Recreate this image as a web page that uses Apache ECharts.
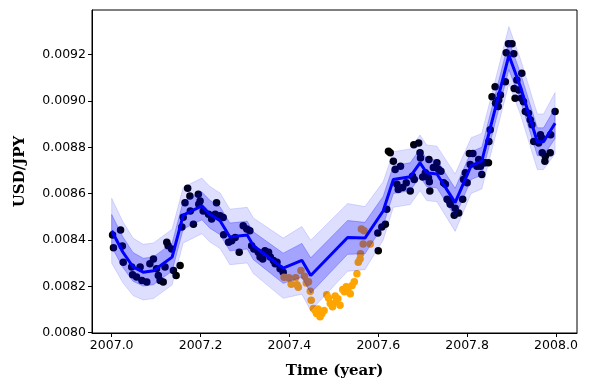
<!DOCTYPE html>
<html>
<head>
<meta charset="utf-8">
<script src="https://cdn.jsdelivr.net/npm/echarts@6/dist/echarts.min.js"></script>
<style>
  html, body { margin: 0; padding: 0; background: #fff; }
  #chart { width: 589px; height: 390px; }
</style>
</head>
<body>
<div id="chart"></div>
<script>
// GP posterior mean and std
const meanX = [2007.000, 2007.025, 2007.048, 2007.071, 2007.094, 2007.136, 2007.161, 2007.203, 2007.221, 2007.244,
    2007.266, 2007.305, 2007.319, 2007.386, 2007.428, 2007.448, 2007.531, 2007.570, 2007.611, 2007.634,
    2007.672, 2007.694, 2007.709, 2007.732, 2007.773, 2007.809, 2007.833, 2007.894, 2007.920, 2007.958,
    2007.972, 2007.998]
const meanY = [0.008440, 0.008348, 0.008284, 0.008261, 0.008267, 0.008326, 0.008507, 0.008547, 0.008511, 0.008483,
    0.008413, 0.008421, 0.008375, 0.008278, 0.008312, 0.008247, 0.008411, 0.008408, 0.008525, 0.008661,
    0.008673, 0.008733, 0.008690, 0.008685, 0.008561, 0.008721, 0.008740, 0.009197, 0.009061, 0.008824,
    0.008824, 0.008904]
const meanStd = [0.0000700, 0.0000660, 0.0000620, 0.0000600, 0.0000600, 0.0000600, 0.0000600, 0.0000600, 0.0000600, 0.0000600,
    0.0000600, 0.0000600, 0.0000600, 0.0000650, 0.0000730, 0.0000760, 0.0000730, 0.0000680, 0.0000630, 0.0000600,
    0.0000600, 0.0000600, 0.0000600, 0.0000600, 0.0000620, 0.0000600, 0.0000600, 0.0000620, 0.0000600, 0.0000600,
    0.0000600, 0.0000660]

// training observations
const trainX = [2007.002, 2007.004, 2007.020, 2007.024, 2007.026, 2007.045, 2007.047, 2007.056, 2007.064, 2007.068,
    2007.079, 2007.086, 2007.094, 2007.101, 2007.105, 2007.109, 2007.116, 2007.120, 2007.124, 2007.127,
    2007.135, 2007.139, 2007.145, 2007.154, 2007.158, 2007.161, 2007.165, 2007.171, 2007.176, 2007.177,
    2007.184, 2007.195, 2007.196, 2007.199, 2007.206, 2007.218, 2007.225, 2007.236, 2007.233, 2007.244,
    2007.251, 2007.252, 2007.263, 2007.270, 2007.278, 2007.287, 2007.296, 2007.304, 2007.311, 2007.315,
    2007.320, 2007.330, 2007.334, 2007.340, 2007.345, 2007.353, 2007.357, 2007.364, 2007.368, 2007.372,
    2007.379, 2007.386,
    2007.599, 2007.600, 2007.608, 2007.616, 2007.619, 2007.623, 2007.627, 2007.634, 2007.638, 2007.650,
    2007.642, 2007.645, 2007.655, 2007.663, 2007.672, 2007.677, 2007.681, 2007.680, 2007.691, 2007.694,
    2007.695, 2007.700, 2007.706, 2007.713, 2007.715, 2007.716, 2007.714, 2007.724, 2007.732, 2007.736,
    2007.741, 2007.747, 2007.751, 2007.755, 2007.760, 2007.762, 2007.773, 2007.771, 2007.781, 2007.790,
    2007.796, 2007.792, 2007.800, 2007.805, 2007.813, 2007.807, 2007.822, 2007.826, 2007.830, 2007.833,
    2007.837, 2007.841, 2007.848, 2007.849, 2007.852, 2007.856, 2007.863, 2007.864, 2007.871, 2007.875,
    2007.870, 2007.886, 2007.888, 2007.893, 2007.901, 2007.905, 2007.912, 2007.923, 2007.906, 2007.916,
    2007.908, 2007.922, 2007.927, 2007.931, 2007.938, 2007.942, 2007.946, 2007.950, 2007.961, 2007.965,
    2007.968, 2007.969, 2007.976, 2007.987, 2007.975, 2007.988, 2007.998]
const trainY = [0.008421, 0.008366, 0.008443, 0.008374, 0.008304, 0.008283, 0.008250, 0.008240, 0.008283, 0.008225,
    0.008219, 0.008297, 0.008318, 0.008276, 0.008247, 0.008225, 0.008219, 0.008283, 0.008390, 0.008375,
    0.008361, 0.008268, 0.008247, 0.008290, 0.008456, 0.008498, 0.008561, 0.008623, 0.008590, 0.008525,
    0.008468, 0.008597, 0.008554, 0.008568, 0.008525, 0.008511, 0.008490, 0.008561, 0.008511, 0.008504,
    0.008497, 0.008423, 0.008390, 0.008397, 0.008411, 0.008347, 0.008461, 0.008447, 0.008440, 0.008375,
    0.008361, 0.008347, 0.008326, 0.008318, 0.008354, 0.008347, 0.008326, 0.008311, 0.008297, 0.008304,
    0.008276, 0.008261,
    0.008430, 0.008354, 0.008456, 0.008468, 0.008533, 0.008783, 0.008776, 0.008740, 0.008704, 0.008718,
    0.008640, 0.008618, 0.008626, 0.008647, 0.008611, 0.008675, 0.008661, 0.008811, 0.008819, 0.008776,
    0.008754, 0.008672, 0.008690, 0.008669, 0.008651, 0.008611, 0.008747, 0.008713, 0.008733, 0.008704,
    0.008697, 0.008647, 0.008640, 0.008576, 0.008568, 0.008554, 0.008537, 0.008507, 0.008516, 0.008576,
    0.008690, 0.008661, 0.008647, 0.008773, 0.008773, 0.008726, 0.008718, 0.008747, 0.008718, 0.008683,
    0.008733, 0.008733, 0.008733, 0.008825, 0.008876, 0.009018, 0.009061, 0.008990, 0.009004, 0.009026,
    0.008976, 0.009083, 0.009208, 0.009247, 0.009247, 0.009204, 0.009090, 0.009119, 0.009054, 0.009047,
    0.009012, 0.009012, 0.008997, 0.008954, 0.008947, 0.008919, 0.008897, 0.008825, 0.008819, 0.008854,
    0.008840, 0.008776, 0.008761, 0.008776, 0.008740, 0.008854, 0.008954]

// held-out observations
const testX = [2007.388, 2007.399, 2007.414, 2007.426, 2007.434, 2007.443, 2007.404, 2007.417, 2007.447, 2007.449,
    2007.454, 2007.464, 2007.469, 2007.478, 2007.484, 2007.492, 2007.503, 2007.505, 2007.514, 2007.520,
    2007.528, 2007.537, 2007.541, 2007.552, 2007.555, 2007.559, 2007.562, 2007.566, 2007.582, 2007.560,
    2007.458, 2007.461, 2007.473, 2007.488, 2007.497, 2007.509, 2007.524, 2007.532, 2007.546, 2007.420,
    2007.438, 2007.568]
const testY = [0.008239, 0.008237, 0.008237, 0.008268, 0.008243, 0.008220, 0.008209, 0.008207, 0.008179, 0.008140,
    0.008104, 0.008102, 0.008069, 0.008096, 0.008164, 0.008126, 0.008158, 0.008133, 0.008118, 0.008186,
    0.008198, 0.008168, 0.008204, 0.008254, 0.008304, 0.008318, 0.008447, 0.008383, 0.008383, 0.008340,
    0.008096, 0.008083, 0.008082, 0.008150, 0.008112, 0.008146, 0.008176, 0.008190, 0.008220, 0.008196,
    0.008214, 0.008440]

const xTicks = [2007.0, 2007.2, 2007.4, 2007.6, 2007.8, 2008.0]
const yTicks = [0.0080, 0.0082, 0.0084, 0.0086, 0.0088, 0.0090, 0.0092]

function zip(xs, ys) {
    let out = []
    for (let i = 0; i < xs.length; i++) {
        out.push([xs[i], ys[i]])
    }
    return out
}

function bandSeries(k, color, z) {
    return {
        type: 'custom',
        z: z,
        silent: true,
        data: [[meanX[0], meanY[0]]],
        renderItem: function (params, api) {
            let upper = []
            let lower = []
            for (let i = 0; i < meanX.length; i++) {
                upper.push(api.coord([meanX[i], meanY[i] + k * meanStd[i]]))
                lower.push(api.coord([meanX[i], meanY[i] - k * meanStd[i]]))
            }
            return {
                type: 'polygon',
                shape: {points: upper.concat(lower.reverse())},
                style: {fill: color, stroke: color, lineWidth: 1}
            }
        }
    }
}

function drawChart() {
    let chartDom = document.getElementById('chart');
    let myChart = echarts.init(chartDom, null, {renderer: 'canvas'});
    let option;

    const tickFont = {color: '#000', fontSize: 12.5, fontFamily: 'DejaVu Sans'}
    const nameFont = {color: '#000', fontSize: 15, fontFamily: 'DejaVu Serif', fontWeight: 'bold'}

    option = {
        animation: false,
        backgroundColor: '#fff',
        grid: {
            left: 92, right: 12, top: 10, bottom: 57,
            containLabel: false,
            outerBoundsMode: 'none',
            show: true,
            borderColor: '#000',
            borderWidth: 1
        },
        xAxis: {
            type: 'value',
            min: 2006.9557,
            max: 2008.0473,
            name: 'Time (year)',
            nameLocation: 'middle',
            nameGap: 31,
            nameTextStyle: nameFont,
            axisLine: {show: true, lineStyle: {color: '#000', width: 1}},
            axisTick: {show: true, length: 4, lineStyle: {color: '#000'}, customValues: xTicks},
            axisLabel: Object.assign({customValues: xTicks, margin: 6, formatter: v => v.toFixed(1)}, tickFont),
            splitLine: {show: false}
        },
        yAxis: {
            type: 'value',
            min: 0.0079985,
            max: 0.0093925,
            name: 'USD/JPY',
            nameLocation: 'middle',
            nameGap: 64,
            nameRotate: 90,
            nameTextStyle: nameFont,
            axisLine: {show: true, lineStyle: {color: '#000', width: 1}},
            axisTick: {show: true, length: 4, lineStyle: {color: '#000'}, customValues: yTicks},
            axisLabel: Object.assign({customValues: yTicks, margin: 6, formatter: v => v.toFixed(4)}, tickFont),
            splitLine: {show: false}
        },
        series: [
            {
                type: 'scatter',
                z: 2,
                symbolSize: 7.5,
                itemStyle: {color: '#000000', opacity: 1},
                data: zip(trainX, trainY)
            },
            {
                type: 'scatter',
                z: 2,
                symbolSize: 7.5,
                itemStyle: {color: '#ffa500', opacity: 1},
                data: zip(testX, testY)
            },
            bandSeries(2, 'rgba(0,0,255,0.13)', 3),
            bandSeries(1, 'rgba(0,0,255,0.26)', 4),
            {
                type: 'line',
                z: 5,
                symbol: 'none',
                lineStyle: {color: '#0000ff', width: 3},
                data: zip(meanX, meanY)
            }
        ]
    };

    option && myChart.setOption(option);
}

drawChart()
</script>
</body>
</html>
